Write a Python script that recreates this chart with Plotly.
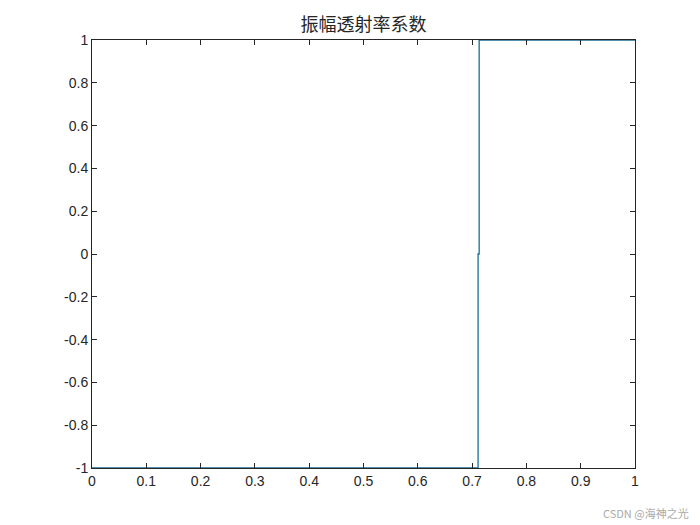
import plotly.graph_objects as go

# amplitude transmission coefficient (step near 0.71)
x = [0, 0.711, 0.711, 0.713, 0.713, 1]
y = [-1, -1, 0, 0, 1, 1]

xticks = [0, 0.1, 0.2, 0.3, 0.4, 0.5, 0.6, 0.7, 0.8, 0.9, 1]
yticks = [-1, -0.8, -0.6, -0.4, -0.2, 0, 0.2, 0.4, 0.6, 0.8, 1]

fig = go.Figure()
fig.add_trace(go.Scatter(x=x, y=y, mode="lines",
                         line=dict(color="#1a6e96", width=1.3),
                         showlegend=False))

axis_style = dict(showline=True, linecolor="#262626", linewidth=1, mirror="ticks",
                  ticks="inside", ticklen=5, tickcolor="#262626",
                  showgrid=False, zeroline=False,
                  tickfont=dict(family="Liberation Sans, Arial", size=14, color="#262626"))

fig.update_xaxes(range=[0, 1], tickvals=xticks,
                 ticktext=[f"{v:g}" for v in xticks], **axis_style)
fig.update_yaxes(range=[-1, 1], tickvals=yticks,
                 ticktext=[f"{v:g}" for v in yticks], **axis_style)

fig.update_layout(
    width=700, height=525,
    margin=dict(l=84, r=73, t=32, b=65),
    paper_bgcolor="white", plot_bgcolor="white",
    title=dict(text="振幅透射率系数", x=(84 + 543 / 2) / 700, xanchor="center",
               y=1 - 17 / 525, yanchor="middle",
               font=dict(family="Noto Sans CJK SC", size=18, color="#262626")),
)
fig.add_annotation(text="CSDN @海神之光", xref="paper", yref="paper",
                   x=1.103, y=-0.105, xanchor="right", yanchor="middle", showarrow=False,
                   font=dict(family="Noto Sans CJK SC", size=11, color="#aaaaaa"))

fig.write_html("out.html")
